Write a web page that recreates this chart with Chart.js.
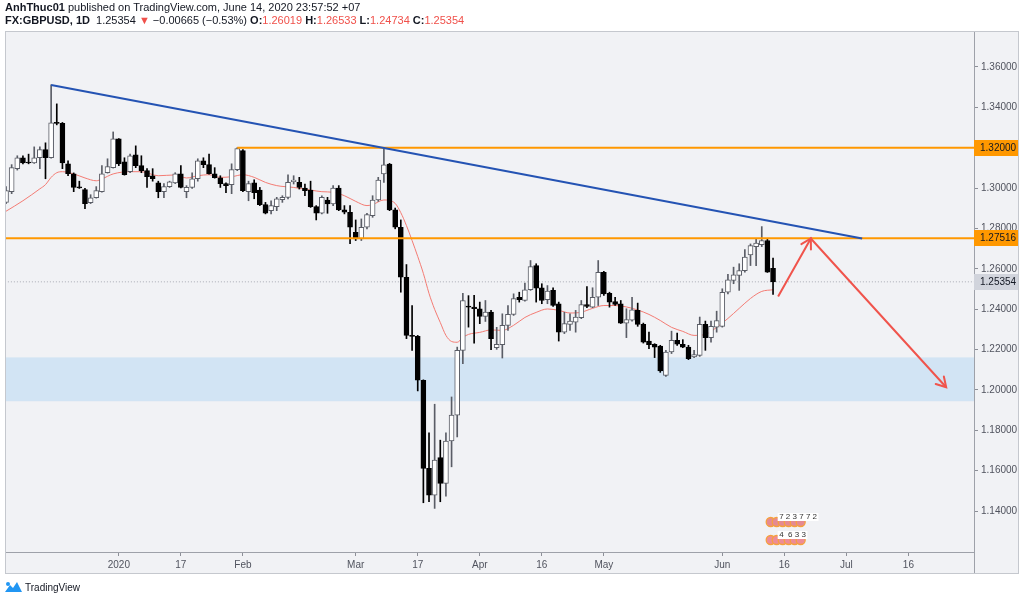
<!DOCTYPE html>
<html><head><meta charset="utf-8">
<script src="https://cdn.jsdelivr.net/npm/chart.js@4/dist/chart.umd.min.js"></script>
<style>
body{margin:0;background:#fff;width:1024px;height:601px;overflow:hidden;position:relative;font-family:"Liberation Sans",Arial,sans-serif;color:#131722}
#c{position:absolute;left:0;top:0}
.hd{position:absolute;left:5px;font-size:11px;white-space:nowrap;line-height:13px}
.r{color:#f0504a}
.logo{position:absolute;left:5px;top:581px;font-size:10px;display:flex;align-items:center;gap:3px;color:#131722}
</style></head><body>
<canvas id="c" width="1024" height="601"></canvas>
<div class="hd" style="top:1px"><b>AnhThuc01</b> published on TradingView.com, June 14, 2020 23:57:52 +07</div>
<div class="hd" style="top:14px"><b>FX:GBPUSD, 1D</b>&nbsp; 1.25354 <span class="r">▼</span> −0.00665 (−0.53%) <b>O:</b><span class="r">1.26019</span> <b>H:</b><span class="r">1.26533</span> <b>L:</b><span class="r">1.24734</span> <b>C:</b><span class="r">1.25354</span></div>
<div class="logo"><svg width="17" height="12" viewBox="0 0 17 12"><path d="M0 11 L5 4 L8 7 L12 1 L17 11 Z" fill="#2196f3"/><circle cx="3" cy="3" r="2" fill="#2196f3"/></svg><span>TradingView</span></div>
<script>
// ---- data (trading-day index, 0 = 2 Jan 2020) ----
const firstDay = -20;
const opens  = [1.2929,1.2982,1.3096,1.3150,1.3126,1.3124,1.3150,1.3190,1.3150,1.3323,1.3320,1.3120,1.3071,1.3003,1.2992,1.2928,1.2952,1.2982,1.3076,1.3101,
1.3244,1.3130,1.3081,1.3165,1.3111,1.3086,1.3061,1.3026,1.2982,1.3007,1.3026,1.3071,1.2982,1.3003,1.3046,1.3135,1.3116,1.3071,1.3051,1.3022,
1.3017,1.3091,1.3185,1.2982,1.3026,1.2990,1.2918,1.2888,1.2908,1.2942,1.2954,1.3031,1.3028,1.3000,1.2990,1.2908,1.2875,1.2941,1.2921,1.3000,
1.2892,1.2880,1.2781,1.2748,1.2806,1.2863,1.2941,1.3070,1.3119,1.2892,1.2806,1.2558,1.2270,1.2265,1.2048,1.1611,1.1479,1.1665,1.1537,1.1747,
1.1875,1.2196,1.2412,1.2410,1.2402,1.2364,1.2385,1.2209,1.2224,1.2320,1.2374,1.2459,1.2443,1.2496,1.2616,1.2506,1.2447,1.2493,1.2427,1.2286,
1.2325,1.2336,1.2358,1.2423,1.2410,1.2459,1.2583,1.2479,1.2438,1.2427,1.2331,1.2345,1.2394,1.2325,1.2242,1.2226,1.2217,1.2072,1.2188,1.2245,
1.2226,1.2212,1.2163,1.2171,1.2325,1.2259,1.2311,1.2315,1.2484,1.2542,1.2567,1.2591,1.2669,1.2710,1.2720,1.2740,1.26019];
const highs  = [1.3007,1.3116,1.3160,1.3160,1.3168,1.3204,1.3204,1.3224,1.3511,1.3417,1.3325,1.3135,1.3075,1.3034,1.2998,1.2967,1.3007,1.3111,1.3145,1.3278,
1.3245,1.3150,1.3168,1.3209,1.3160,1.3096,1.3096,1.3034,1.3022,1.3034,1.3076,1.3111,1.3012,1.3076,1.3145,1.3150,1.3168,1.3101,1.3061,1.3026,
1.3120,1.3200,1.3190,1.3034,1.3041,1.3003,1.2929,1.2937,1.2954,1.2962,1.3066,1.3061,1.3053,1.3020,1.3034,1.2913,1.2962,1.2954,1.3012,1.3012,
1.2913,1.2913,1.2842,1.2847,1.2875,1.2962,1.3053,1.3200,1.3122,1.2901,1.2842,1.2621,1.2418,1.2270,1.2050,1.1787,1.1929,1.1751,1.1787,1.1965,
1.2212,1.2479,1.2467,1.2468,1.2435,1.2443,1.2394,1.2310,1.2377,1.2418,1.2476,1.2484,1.2529,1.2641,1.2625,1.2526,1.2517,1.2506,1.2435,1.2385,
1.2377,1.2394,1.2443,1.2512,1.2506,1.2641,1.2588,1.2484,1.2458,1.2443,1.2402,1.2459,1.2430,1.2331,1.2286,1.2229,1.2221,1.2196,1.2291,1.2281,
1.2249,1.2221,1.2196,1.2361,1.2341,1.2341,1.2390,1.2501,1.2572,1.2608,1.2625,1.2695,1.2723,1.2748,1.2809,1.2750,1.26533];
const lows   = [1.2923,1.2972,1.3089,1.3120,1.3120,1.3122,1.3096,1.3046,1.3148,1.3313,1.3096,1.3061,1.2982,1.2998,1.2898,1.2923,1.2950,1.2980,1.3074,1.3099,
1.3111,1.3064,1.3076,1.3101,1.3076,1.3003,1.3034,1.2952,1.2952,1.3003,1.3022,1.3001,1.2952,1.2998,1.3034,1.3101,1.3069,1.3049,1.3003,1.2977,
1.2972,1.3086,1.2982,1.2937,1.2947,1.2913,1.2872,1.2872,1.2888,1.2929,1.2946,1.3020,1.2995,1.2962,1.2904,1.2842,1.2872,1.2875,1.2913,1.2888,
1.2872,1.2725,1.2740,1.2740,1.2798,1.2855,1.2934,1.3028,1.2888,1.2798,1.2484,1.2254,1.2196,1.1995,1.1441,1.1446,1.1413,1.1446,1.1474,1.1619,
1.1767,1.2130,1.2311,1.2232,1.2328,1.2339,1.2199,1.2201,1.2158,1.2295,1.2369,1.2435,1.2440,1.2493,1.2435,1.2427,1.2427,1.2413,1.2242,1.2279,
1.2295,1.2286,1.2353,1.2407,1.2407,1.2418,1.2468,1.2410,1.2418,1.2329,1.2259,1.2340,1.2315,1.2232,1.2204,1.2160,1.2087,1.2067,1.2180,1.2221,
1.2209,1.2150,1.2160,1.2166,1.2196,1.2237,1.2286,1.2311,1.2476,1.2526,1.2493,1.2583,1.2616,1.2616,1.2710,1.2582,1.24734];
const closes = [1.2987,1.3101,1.3150,1.3125,1.3124,1.3150,1.3190,1.3150,1.3323,1.3320,1.3125,1.3071,1.3003,1.3001,1.2923,1.2952,1.2987,1.3071,1.3106,1.3244,
1.3120,1.3066,1.3160,1.3111,1.3086,1.3056,1.3046,1.2982,1.3007,1.3031,1.3071,1.3003,1.3003,1.3046,1.3135,1.3116,1.3071,1.3051,1.3022,1.3012,
1.3091,1.3195,1.2987,1.3022,1.2977,1.2918,1.2875,1.2913,1.2946,1.2954,1.3028,1.3040,1.3003,1.2987,1.2908,1.2875,1.2954,1.2921,1.3000,1.2892,
1.2880,1.2806,1.2748,1.2806,1.2868,1.2941,1.3040,1.3115,1.2892,1.2806,1.2558,1.2270,1.2265,1.2048,1.1611,1.1479,1.1652,1.1537,1.1747,1.1875,
1.2196,1.2443,1.2410,1.2402,1.2364,1.2385,1.2254,1.2226,1.2320,1.2374,1.2452,1.2447,1.2496,1.2611,1.2504,1.2443,1.2489,1.2418,1.2286,1.2328,
1.2341,1.2361,1.2423,1.2413,1.2459,1.2583,1.2476,1.2435,1.2423,1.2331,1.2348,1.2397,1.2325,1.2237,1.2224,1.2212,1.2094,1.2188,1.2245,1.2226,
1.2212,1.2155,1.2175,1.2325,1.2259,1.2315,1.2344,1.2484,1.2545,1.2570,1.2591,1.2658,1.2715,1.2727,1.2740,1.2583,1.25354];

const maDays   = [-20,-17,-14,-13,-12,-11,-10,-8,-6,-4,-3,-1,2,4,7,10,12,14,16,18,20,22,24,26,28,31,34,36,38,40,42,44,45,47,48,49,50,51,52,53,54,55,56,57,58,59,60,61,62,64,66,68,70,72,74,76,78,80,82,84,86,88,90,92,94,96,98,100,102,104,106,108,110,112,114,116];
const maValues = [1.2885,1.2937,1.2996,1.3017,1.3053,1.3076,1.3081,1.3070,1.3050,1.3036,1.3045,1.3070,1.3081,1.3081,1.3061,1.3065,1.3050,1.3061,1.3066,1.3053,1.3056,1.3066,1.3053,1.3028,1.3012,1.3003,1.2990,1.2982,1.2979,1.2962,1.2934,1.2913,1.2918,1.2941,1.2938,1.2924,1.2878,1.2814,1.2740,1.2661,1.2577,1.2478,1.2399,1.2334,1.2270,1.2240,1.2236,1.2260,1.2275,1.2285,1.2297,1.2295,1.2320,1.2359,1.2384,1.2401,1.2394,1.2381,1.2385,1.2404,1.2418,1.2418,1.2411,1.2396,1.2374,1.2344,1.2310,1.2290,1.2270,1.2275,1.2310,1.2354,1.2404,1.2453,1.2488,1.2496];

const xTickDays   = [0,11,22,42,53,64,75,86,107,118,129,140];
const xTickLabels = ['2020','17','Feb','Mar','17','Apr','16','May','Jun','16','Jul','16'];
const yTicks = [1.14,1.16,1.18,1.20,1.22,1.24,1.26,1.28,1.30,1.32,1.34,1.36];

const trendDays = [-12, 131.8];      const trendValues = [1.3511, 1.2750];
const resistDays = [21, 151.7];      const resistValue = 1.32000;
const supportDays = [-20.2, 151.7];  const supportValue = 1.27516;
const lastDays = [-20.2, 151.7];     const lastPrice = 1.25354;
const zoneValues = [1.2161, 1.1944];
const arrowDays = [116.9, 122.7, 146.7];
const arrowValues = [1.2463, 1.2750, 1.2013];
const priceTags = [
  {v: resistValue, bg:'#ff9800', fg:'#131722'},
  {v: supportValue, bg:'#ff9800', fg:'#131722'},
  {v: lastPrice, bg:'#d1d4dc', fg:'#131722'}
];
const eventDay = 117;
const eventRows = ['7 2 3 7 7 2', '4  6 3 3'];

// ---- build ----
const days = opens.map((_, k) => firstDay + k);
const up = days.map((_, k) => closes[k] >= opens[k]);
const bodyData = days.map((d, k) => ({x: d, y: [opens[k], closes[k]]}));
const wickData = days.map((d, k) => ({x: d, y: [lows[k], highs[k]]}));
const pts = (xs, ys) => xs.map((x, k) => ({x, y: Array.isArray(ys) ? ys[k] : ys}));

const AXF = '"Liberation Sans", Arial, sans-serif';
const BG = '#f1f2f5';
const bgPlugin = {
  id: 'bg',
  beforeDraw(chart) {
    const c = chart.ctx;
    c.save();
    c.fillStyle = '#fff'; c.fillRect(0, 0, chart.width, chart.height);
    c.fillStyle = BG; c.fillRect(5, 31, 1014, 542);
    c.restore();
  },
  beforeDatasetsDraw(chart) {
    const {ctx, chartArea: a, scales: {y}} = chart;
    const t = y.getPixelForValue(zoneValues[0]), b = y.getPixelForValue(zoneValues[1]);
    ctx.save();
    ctx.fillStyle = 'rgba(33,150,243,0.15)';
    ctx.fillRect(a.left, t, a.right - a.left, b - t);
    ctx.restore();
  },
  afterDatasetsDraw(chart) {
    const p = chart.getDatasetMeta(0).data;
    const c = chart.ctx;
    c.save();
    c.strokeStyle = '#f0544c'; c.lineWidth = 2; c.lineCap = 'round';
    for (let k = 1; k < p.length; k++) {
      const x1 = p[k-1].x, y1 = p[k-1].y, x2 = p[k].x, y2 = p[k].y;
      const ang = Math.atan2(y2 - y1, x2 - x1);
      const L = 11, A = Math.PI / 6;
      c.beginPath();
      c.moveTo(x2 - L * Math.cos(ang - A), y2 - L * Math.sin(ang - A));
      c.lineTo(x2, y2);
      c.lineTo(x2 - L * Math.cos(ang + A), y2 - L * Math.sin(ang + A));
      c.stroke();
    }
    c.restore();
  },
  afterDraw(chart) {
    const {ctx: c, chartArea: a, scales: {x, y}} = chart;
    c.save();
    // price tags
    c.font = '10px ' + AXF;
    c.textBaseline = 'middle';
    priceTags.forEach(t => {
      const py = Math.round(y.getPixelForValue(t.v));
      c.fillStyle = t.bg; c.fillRect(a.right, py - 8, 45, 16);
      c.fillStyle = t.fg; c.fillText(t.v.toFixed(5), a.right + 6, py + 0.5);
    });
    // event markers
    const ex = x.getPixelForValue(eventDay);
    eventRows.forEach((digits, r) => {
      const yy = a.bottom - 30 + r * 18;
      for (let k = 0; k < 6; k++) {
        const cx = ex - 8 + k * 6;
        c.beginPath(); c.arc(cx, yy, 4.5, 0, Math.PI * 2);
        c.fillStyle = r ? '#ee8c96' : '#e58a92'; c.fill();
        c.lineWidth = 1.3; c.strokeStyle = '#f5a03c'; c.stroke();
      }
      c.font = '8px "Liberation Sans", Arial';
      const w = c.measureText(digits).width;
      c.fillStyle = '#fff';
      c.fillRect(ex - 1, yy - 9, w + 3, 8);
      c.fillStyle = '#333';
      c.fillText(digits, ex + 0.5, yy - 5);
    });
    // frame
    c.strokeStyle = '#c5c8ce'; c.lineWidth = 1;
    c.strokeRect(5.5, 31.5, 1013, 542);
    c.strokeStyle = '#9ea1a9';
    c.beginPath(); c.moveTo(a.right + 0.5, 573); c.lineTo(a.right + 0.5, 552); c.stroke();
    c.restore();
  }
};

const tickFont = {family: AXF, size: 10};
new Chart(document.getElementById('c'), {
  type: 'bar',
  data: {datasets: [
    {type: 'line', data: pts(arrowDays, arrowValues), borderColor: '#f0544c', borderWidth: 2, pointRadius: 0, order: 0},
    {type: 'line', data: pts(trendDays, trendValues), borderColor: '#2453b3', borderWidth: 2, pointRadius: 0, order: 0},
    {type: 'line', data: pts(resistDays, resistValue), borderColor: '#ff9800', borderWidth: 2, pointRadius: 0, order: 0},
    {type: 'line', data: pts(supportDays, supportValue), borderColor: '#ff9800', borderWidth: 2, pointRadius: 0, order: 0},
    {type: 'line', data: pts(lastDays, lastPrice), borderColor: '#a9acb4', borderWidth: 1, borderDash: [1, 2], pointRadius: 0, order: 5},
    {type: 'bar', data: bodyData, backgroundColor: up.map(u => u ? '#ffffff' : '#000000'),
      borderColor: up.map(u => u ? '#5a5d66' : '#000000'), borderWidth: 1, borderSkipped: false,
      barThickness: 5, grouped: false, minBarLength: 1, order: 1},
    {type: 'bar', data: wickData, backgroundColor: up.map(u => u ? '#5a5d66' : '#000000'),
      barThickness: 1, grouped: false, order: 2},
    {type: 'line', data: pts(maDays, maValues), borderColor: '#f47c74', borderWidth: 1, pointRadius: 0,
      cubicInterpolationMode: 'monotone', order: 3}
  ]},
  options: {
    responsive: false, animation: false, events: [],
    layout: {padding: {left: 5, top: 31, right: 0, bottom: 0}},
    plugins: {legend: {display: false}, tooltip: {enabled: false}},
    scales: {
      x: {type: 'linear', position: 'bottom', min: -20.18, max: 151.63, offset: false,
        afterBuildTicks: s => { s.ticks = xTickDays.map(v => ({value: v})); },
        afterFit: s => { s.height = 49; },
        ticks: {autoSkip: false, maxRotation: 0, padding: 3, font: tickFont, color: '#50535e',
          callback: v => { const k = xTickDays.indexOf(v); return k >= 0 ? xTickLabels[k] : ''; }},
        grid: {display: true, drawOnChartArea: false, drawTicks: true, tickLength: 4, offset: false, color: '#8c8f97'},
        border: {display: true, color: '#9ea1a9'}},
      y: {type: 'linear', position: 'right', min: 1.1197, max: 1.3778,
        afterBuildTicks: s => { s.ticks = yTicks.map(v => ({value: v})); },
        afterFit: s => { s.width = 50; },
        ticks: {padding: 3, font: tickFont, color: '#50535e', callback: v => v.toFixed(5)},
        grid: {display: true, drawOnChartArea: false, drawTicks: true, tickLength: 4, color: '#8c8f97'},
        border: {display: true, color: '#9ea1a9'}}
    }
  },
  plugins: [bgPlugin]
});
</script>
</body></html>
